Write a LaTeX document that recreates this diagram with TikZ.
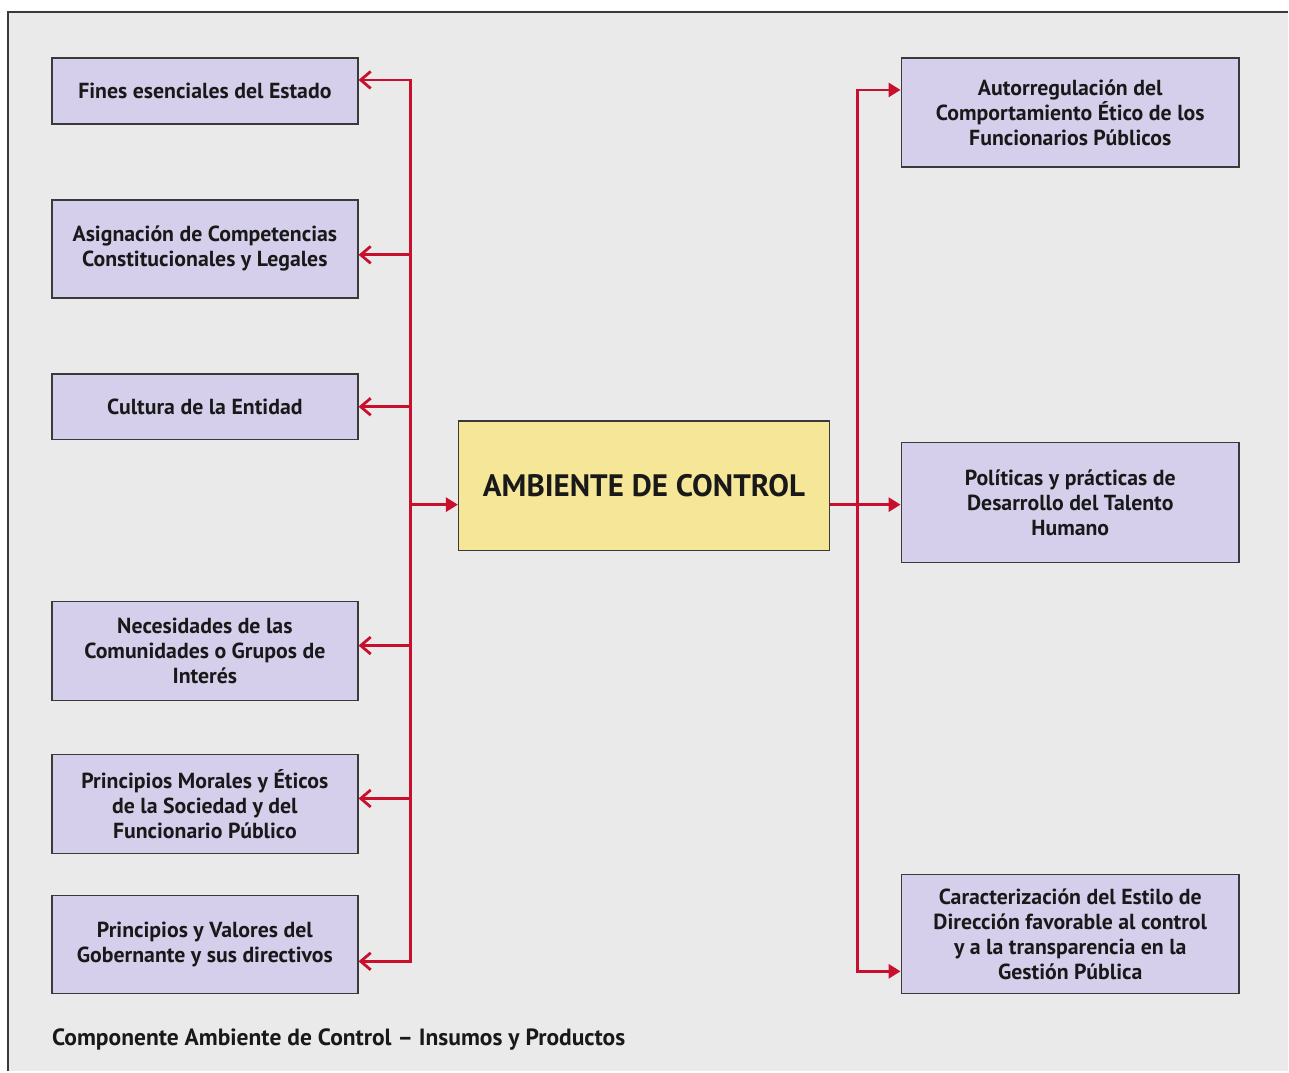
\documentclass[tikz,border=0pt]{standalone}
\usepackage{fontspec}
\setmainfont{PT Sans}
\usetikzlibrary{arrows.meta}
\definecolor{fondo}{HTML}{EAEAEA}
\definecolor{lila}{HTML}{D5CFEC}
\definecolor{amarillo}{HTML}{F6E698}
\definecolor{rojo}{HTML}{C8102E}
\definecolor{borde}{HTML}{3A3A3A}

\begin{document}
\begin{tikzpicture}[x=1pt,y=-1pt,
    caja/.style={draw=borde, line width=1.6pt, fill=lila, align=center, inner sep=0pt,
        font=\fontsize{21.8}{25}\selectfont\bfseries, text=black!90},
    izq/.style={caja, minimum width=306pt},
    der/.style={caja, minimum width=338pt},
    flecha/.style={draw=rojo, line width=2.8pt},
    entra/.style={flecha, -{Straight Barb[length=10pt,width=17pt,line width=2.8pt]}},
    sale/.style={flecha, -{Triangle[length=12pt,width=14pt]}}]
    % fondo y marco
    \fill[white] (0,0) rectangle (1289,1072);
    \fill[fondo] (8,12) rectangle (1289,1072);
    \draw[borde, line width=1.8pt] (8,1072) -- (8,12) -- (1289,12);

    % insumos
    \node[izq, minimum height=66pt] (fines) at (205,91) {Fines esenciales del Estado};
    \node[izq, minimum height=98pt] (asignacion) at (205,249) {Asignación de Competencias\\Constitucionales y Legales};
    \node[izq, minimum height=66pt] (cultura) at (205,407) {Cultura de la Entidad};
    \node[izq, minimum height=99pt] (necesidades) at (205,651.5) {Necesidades de las\\Comunidades o Grupos de\\Interés};
    \node[izq, minimum height=99pt] (morales) at (205,804.5) {Principios Morales y Éticos\\de la Sociedad y del\\Funcionario Público};
    \node[izq, minimum height=98pt] (valores) at (205,945) {Principios y Valores del\\Gobernante y sus directivos};

    % componente
    \node[caja, fill=amarillo, minimum width=371pt, minimum height=130pt,
        font=\fontsize{31}{36}\selectfont\bfseries] (ambiente) at (644.5,486) {AMBIENTE DE CONTROL};

    % productos
    \node[der, minimum height=109pt] (autorregulacion) at (1071,112.5) {Autorregulación del\\Comportamiento Ético de los\\Funcionarios Públicos};
    \node[der, minimum height=120pt] (politicas) at (1071,503) {Políticas y prácticas de\\Desarrollo del Talento\\Humano};
    \node[der, minimum height=119pt] (caracterizacion) at (1071,934.5) {Caracterización del Estilo de\\Dirección favorable al control\\y a la transparencia en la\\Gestión Pública};

    \node[anchor=west, inner sep=0pt, font=\fontsize{23.5}{28}\selectfont\bfseries, text=black!90] (titulo) at (52,1040)
        {Componente Ambiente de Control -- Insumos y Productos};

    % conexiones
    \coordinate (i1) at (411,80);
    \coordinate (i2) at (411,255);
    \coordinate (i3) at (411,407);
    \coordinate (ic) at (411,505);
    \coordinate (i4) at (411,646);
    \coordinate (i5) at (411,799);
    \coordinate (i6) at (411,962);
    \coordinate (d1) at (858,90);
    \coordinate (d2) at (858,505);
    \coordinate (d3) at (858,972);

    \draw[flecha, line cap=rect] (i1) -- (i6);
    \draw[flecha, line cap=rect] (d1) -- (d3);
    \draw[entra] (i1) -- (i1 -| fines.east);
    \draw[entra] (i2) -- (i2 -| asignacion.east);
    \draw[entra] (i3) -- (i3 -| cultura.east);
    \draw[entra] (i4) -- (i4 -| necesidades.east);
    \draw[entra] (i5) -- (i5 -| morales.east);
    \draw[entra] (i6) -- (i6 -| valores.east);
    \draw[sale] (ic) -- (ic -| ambiente.west);
    \draw[sale] (d2 -| ambiente.east) -- (d2 -| politicas.west);
    \draw[sale] (d1) -- (d1 -| autorregulacion.west);
    \draw[sale] (d3) -- (d3 -| caracterizacion.west);
\end{tikzpicture}
\end{document}
